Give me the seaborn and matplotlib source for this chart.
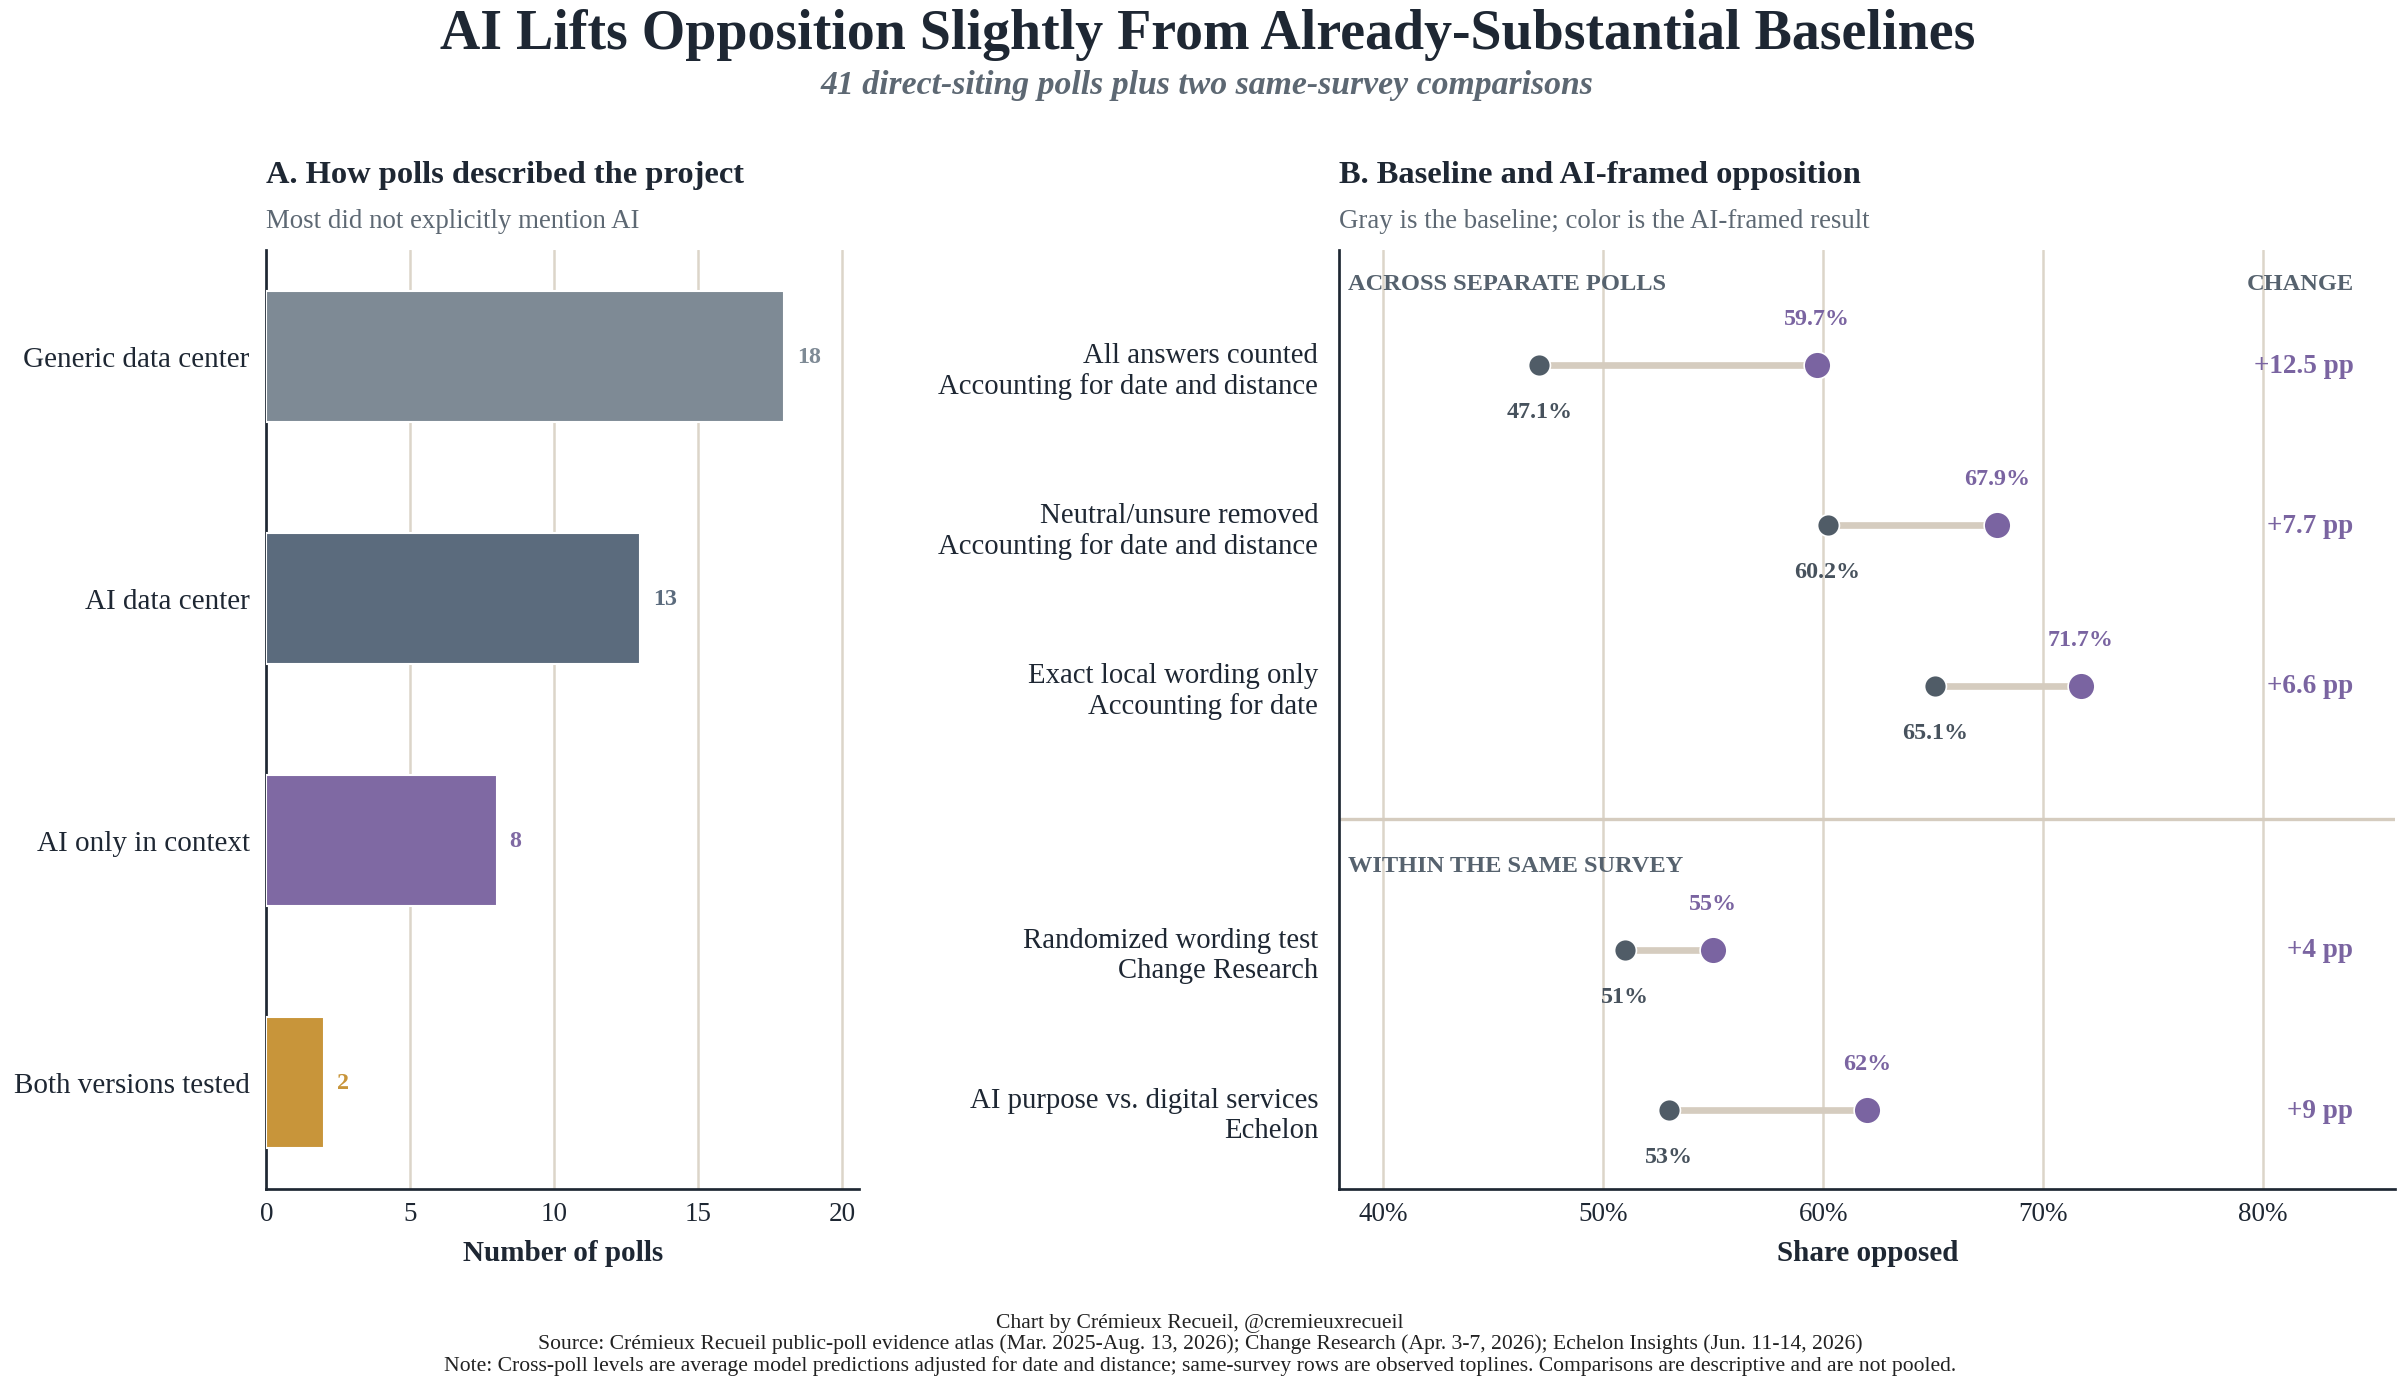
import numpy as np
import pandas as pd
import matplotlib.pyplot as plt
import seaborn as sns

# panel A data
framing = ["Generic data center", "AI data center", "AI only in context", "Both versions tested"]
poll_counts = [18, 13, 8, 2]
bar_colors = ["#7e8a95", "#5b6b7d", "#7f69a3", "#c8953a"]

# panel B data
row_labels = [
    "All answers counted\nAccounting for date and distance",
    "Neutral/unsure removed\nAccounting for date and distance",
    "Exact local wording only\nAccounting for date",
    "Randomized wording test\nChange Research",
    "AI purpose vs. digital services\nEchelon",
]
row_group = ["across", "across", "across", "within", "within"]
baseline = [47.1, 60.2, 65.1, 51, 53]
ai_framed = [59.7, 67.9, 71.7, 55, 62]
base_text = ["47.1%", "60.2%", "65.1%", "51%", "53%"]
ai_text = ["59.7%", "67.9%", "71.7%", "55%", "62%"]
change_text = ["+12.5 pp", "+7.7 pp", "+6.6 pp", "+4 pp", "+9 pp"]

DARK = "#1e2733"
MUTED = "#5d6873"
GRID = "#dcd5c9"
PURPLE = "#7a64a1"
SLATE = "#505c67"
LINK = "#d5ccbf"

sns.set_theme(style="white")
plt.rcParams["font.family"] = "serif"
plt.rcParams["font.serif"] = ["Liberation Serif", "DejaVu Serif"]

fig = plt.figure(figsize=(16, 9.2333), dpi=150)
ax1 = fig.add_axes([0.111, 0.141, 0.247, 0.678])
ax2 = fig.add_axes([0.558, 0.141, 0.440, 0.678])

# ---- panel A ----
dfa = pd.DataFrame({"framing": framing, "count": poll_counts})
sns.barplot(data=dfa, x="count", y="framing", hue="framing", palette=bar_colors,
            width=0.54, legend=False, ax=ax1, saturation=1, zorder=3)
for i, (v, c) in enumerate(zip(poll_counts, bar_colors)):
    ax1.text(v + 0.45, i, str(v), va="center", ha="left", fontsize=11.5,
             fontweight="bold", color=c)
ax1.set_xlim(0, 20.6)
ax1.set_ylim(3.44, -0.44)
ax1.set_xticks([0, 5, 10, 15, 20])
ax1.grid(axis="x", color=GRID, linewidth=1.2, zorder=0)
ax1.set_axisbelow(True)
ax1.set_ylabel("")
ax1.set_xlabel("Number of polls", fontsize=14, fontweight="bold", color=DARK, labelpad=6)
ax1.tick_params(axis="y", length=0, labelsize=14, labelcolor=DARK, pad=8)
ax1.tick_params(axis="x", length=0, labelsize=13, labelcolor=DARK, pad=6)
sns.despine(ax=ax1)
for s in ["left", "bottom"]:
    ax1.spines[s].set_color(DARK)
    ax1.spines[s].set_linewidth(1.3)

# ---- panel B ----
gap = 0.65
ypos = [i + (gap if g == "within" else 0) for i, g in enumerate(row_group)]
dfb = pd.DataFrame({"label": row_labels, "y": ypos, "base": baseline, "ai": ai_framed})

ax2.grid(axis="x", color=GRID, linewidth=1.2, zorder=0)
ax2.set_axisbelow(True)
ax2.hlines(dfb["y"], dfb["base"], dfb["ai"], color=LINK, linewidth=3.2, zorder=2)
sns.scatterplot(data=dfb, x="base", y="y", color=SLATE, s=110, edgecolor="white",
                linewidth=0.8, ax=ax2, zorder=3)
sns.scatterplot(data=dfb, x="ai", y="y", color=PURPLE, s=165, edgecolor="white",
                linewidth=0.8, ax=ax2, zorder=4)
for y, b, a, bt, at, ct in zip(ypos, baseline, ai_framed, base_text, ai_text, change_text):
    ax2.text(a, y - 0.29, at, ha="center", va="center", fontsize=11.5,
             fontweight="bold", color=PURPLE)
    ax2.text(b, y + 0.29, bt, ha="center", va="center", fontsize=11.5,
             fontweight="bold", color="#47525d")
    ax2.text(84.1, y, ct, ha="right", va="center", fontsize=13,
             fontweight="bold", color=PURPLE)

ax2.axhline(2 + (1 + gap) / 2 + 0.01, color=LINK, linewidth=1.6, zorder=1)
ax2.text(38.4, -0.51, "ACROSS SEPARATE POLLS", ha="left", va="center",
         fontsize=11.7, fontweight="bold", color="#56626e")
ax2.text(84.1, -0.51, "CHANGE", ha="right", va="center",
         fontsize=11.7, fontweight="bold", color="#56626e")
ax2.text(38.4, 3 + gap - 0.53, "WITHIN THE SAME SURVEY", ha="left", va="center",
         fontsize=11.7, fontweight="bold", color="#56626e")

ax2.set_xlim(38, 86)
ax2.set_ylim(ypos[-1] + 0.49, -0.72)
ax2.set_xticks([40, 50, 60, 70, 80])
ax2.set_xticklabels([f"{t}%" for t in [40, 50, 60, 70, 80]])
ax2.set_yticks(ypos)
ax2.set_yticklabels(row_labels)
ax2.set_ylabel("")
ax2.set_xlabel("Share opposed", fontsize=14, fontweight="bold", color=DARK, labelpad=6)
ax2.tick_params(axis="y", length=0, labelsize=13.8, labelcolor=DARK, pad=10)
ax2.tick_params(axis="x", length=0, labelsize=13, labelcolor=DARK, pad=6)
sns.despine(ax=ax2)
for s in ["left", "bottom"]:
    ax2.spines[s].set_color(DARK)
    ax2.spines[s].set_linewidth(1.3)

# ---- titles ----
fig.text(0.503, 0.975, "AI Lifts Opposition Slightly From Already-Substantial Baselines",
         ha="center", va="center", fontsize=26.8, fontweight="bold", color=DARK)
fig.text(0.503, 0.938, "41 direct-siting polls plus two same-survey comparisons",
         ha="center", va="center", fontsize=16.2, fontweight="bold", style="italic", color=MUTED)
fig.text(0.111, 0.873, "A. How polls described the project", ha="left", va="center",
         fontsize=15.6, fontweight="bold", color=DARK)
fig.text(0.111, 0.840, "Most did not explicitly mention AI", ha="left", va="center",
         fontsize=12.9, color=MUTED)
fig.text(0.558, 0.873, "B. Baseline and AI-framed opposition", ha="left", va="center",
         fontsize=15.6, fontweight="bold", color=DARK)
fig.text(0.558, 0.840, "Gray is the baseline; color is the AI-framed result", ha="left",
         va="center", fontsize=12.9, color=MUTED)

footer = ("Chart by Crémieux Recueil, @cremieuxrecueil\n"
          "Source: Crémieux Recueil public-poll evidence atlas (Mar. 2025-Aug. 13, 2026); "
          "Change Research (Apr. 3-7, 2026); Echelon Insights (Jun. 11-14, 2026)\n"
          "Note: Cross-poll levels are average model predictions adjusted for date and distance; "
          "same-survey rows are observed toplines. Comparisons are descriptive and are not pooled.")
fig.text(0.5, 0.029, footer, ha="center", va="center", fontsize=10.4, color="#222222",
         linespacing=1.1)

fig.savefig("out.png", dpi=150, facecolor="white")
